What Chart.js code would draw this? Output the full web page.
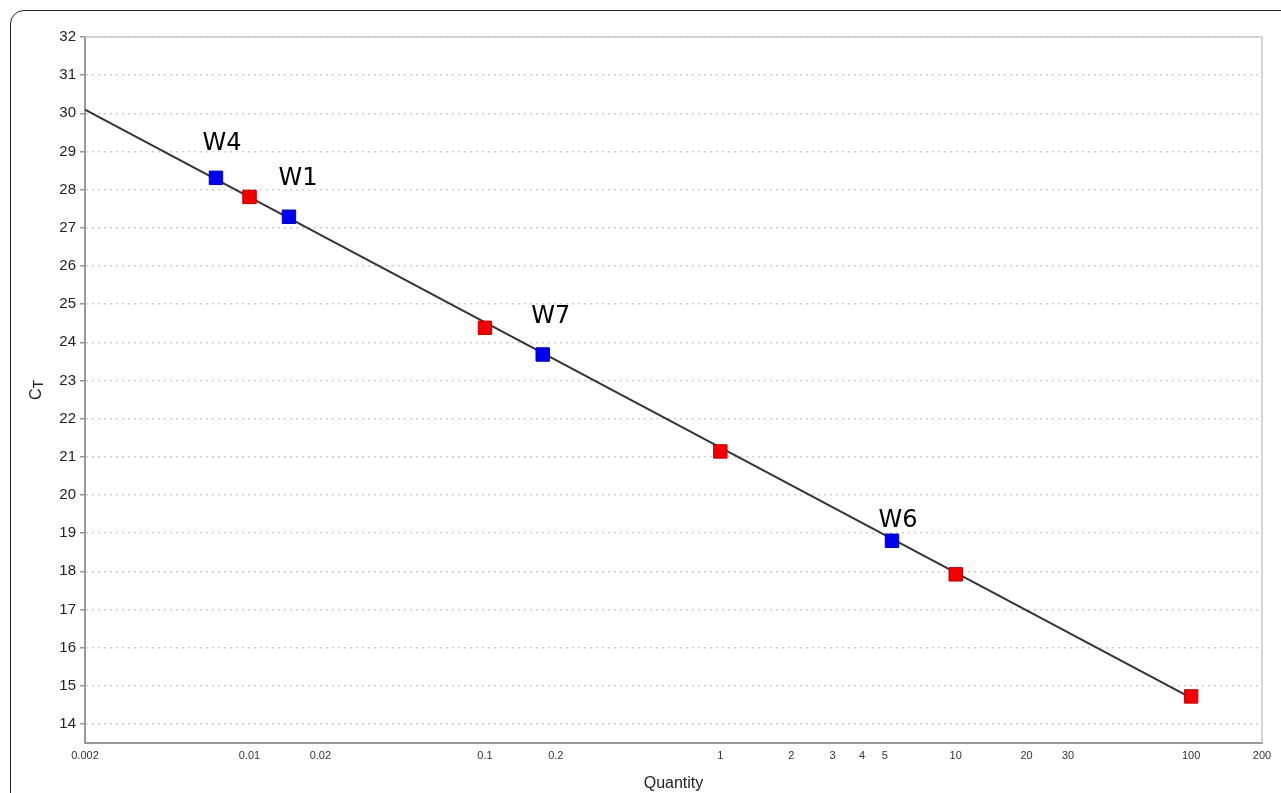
<!DOCTYPE html>
<html>
<head>
<meta charset="utf-8">
<script src="https://cdn.jsdelivr.net/npm/chart.js@4.4.1/dist/chart.umd.min.js"></script>
<style>
  html, body { margin: 0; padding: 0; background: #fff; overflow: hidden; }
  .frame {
    position: absolute; left: 10px; top: 10px; width: 1290px; height: 800px;
    border: 1.5px solid #222; border-radius: 14px; box-sizing: border-box;
  }
  #wrap { position: absolute; left: 0; top: 0; width: 1281px; height: 793px; }
</style>
</head>
<body>
<div class="frame"></div>
<div id="wrap"><canvas id="stdChart"></canvas></div>
<script>
// standards (red) and samples (blue)
const stdQty = [0.01, 0.1, 1, 10, 100]
const stdCt = [27.81, 24.38, 21.14, 17.92, 14.72]

const sampleNames = ['W4', 'W1', 'W7', 'W6']
const sampleQty = [0.0072, 0.0147, 0.176, 5.36]
const sampleCt = [28.31, 27.29, 23.68, 18.8]

// fitted standard curve endpoints
const fitQty = [0.002, 100]
const fitCt = [30.1, 14.68]

const xTicks = [0.002, 0.01, 0.02, 0.1, 0.2, 1, 2, 3, 4, 5, 10, 20, 30, 100, 200]
const yTicks = [14, 15, 16, 17, 18, 19, 20, 21, 22, 23, 24, 25, 26, 27, 28, 29, 30, 31, 32]

// label offsets for the sample names (pixels)
const labelOffsets = [[6, -34], [9, -38], [8, -38], [6, -20]]

const toPts = (xs, ys) => xs.map((x, i) => ({ x: x, y: ys[i] }))

const sampleLabels = {
  id: 'sampleLabels',
  afterDatasetsDraw(chart) {
    const ctx = chart.ctx
    const xs = chart.scales.x, ys = chart.scales.y
    ctx.save()
    ctx.fillStyle = '#000'
    ctx.font = '24px "DejaVu Sans", sans-serif'
    ctx.textAlign = 'center'
    ctx.textBaseline = 'middle'
    sampleNames.forEach((n, i) => {
      const px = xs.getPixelForValue(sampleQty[i]) + labelOffsets[i][0]
      const py = ys.getPixelForValue(sampleCt[i]) + labelOffsets[i][1]
      ctx.fillText(n, px, py)
    })
    ctx.restore()
  }
}

const plotFrame = {
  id: 'plotFrame',
  beforeDatasetsDraw(chart) {
    const a = chart.chartArea, ctx = chart.ctx
    ctx.save()
    ctx.strokeStyle = '#c8c8c8'
    ctx.lineWidth = 1.5
    ctx.beginPath()
    ctx.moveTo(a.left, a.top)
    ctx.lineTo(a.right, a.top)
    ctx.lineTo(a.right, a.bottom)
    ctx.stroke()
    // y title: C with subscript T
    ctx.fillStyle = '#222'
    ctx.translate(37, (a.top + a.bottom) / 2)
    ctx.rotate(-Math.PI / 2)
    ctx.textBaseline = 'middle'
    ctx.font = '16px "Liberation Sans", Arial, sans-serif'
    const cw = ctx.measureText('C').width
    ctx.font = '14px "Liberation Sans", Arial, sans-serif'
    const tw = ctx.measureText('T').width
    const start = -(cw + tw) / 2
    ctx.textAlign = 'left'
    ctx.font = '16px "Liberation Sans", Arial, sans-serif'
    ctx.fillText('C', start, 0)
    ctx.font = '14px "Liberation Sans", Arial, sans-serif'
    ctx.fillText('T', start + cw, 2)
    ctx.restore()
  }
}

new Chart(document.getElementById('stdChart'), {
  type: 'scatter',
  data: {
    datasets: [
      {
        label: 'Samples',
        data: toPts(sampleQty, sampleCt),
        pointStyle: 'rect',
        pointRadius: 9.5,
        backgroundColor: '#0000f0',
        borderColor: '#0000b0',
        borderWidth: 1,
        order: 1
      },
      {
        label: 'Standards',
        data: toPts(stdQty, stdCt),
        pointStyle: 'rect',
        pointRadius: 9.5,
        backgroundColor: '#f00000',
        borderColor: '#c00000',
        borderWidth: 1,
        order: 2
      },
      {
        label: 'Fit',
        type: 'line',
        data: toPts(fitQty, fitCt),
        borderColor: '#333',
        borderWidth: 2,
        pointRadius: 0,
        fill: false,
        order: 3
      }
    ]
  },
  options: {
    responsive: true,
    maintainAspectRatio: false,
    animation: false,
    layout: { padding: { left: 0, top: 37, right: 19, bottom: 0 } },
    plugins: {
      legend: { display: false },
      tooltip: { enabled: false }
    },
    scales: {
      x: {
        type: 'logarithmic',
        min: 0.002,
        max: 200,
        afterBuildTicks: s => { s.ticks = xTicks.map(v => ({ value: v })) },
        afterFit: s => { s.height = 50; s.paddingLeft = 0; s.paddingRight = 0 },
        ticks: {
          autoSkip: false,
          maxRotation: 0,
          padding: 6,
          color: '#333',
          font: { family: '"Liberation Sans Narrow", "Liberation Sans", sans-serif', size: 11 },
          callback: v => String(v)
        },
        grid: { drawOnChartArea: false, drawTicks: false },
        border: { color: '#999', width: 2 },
        title: {
          display: true,
          text: 'Quantity',
          color: '#222',
          padding: { top: 4, bottom: 0 },
          font: { family: '"Liberation Sans", Arial, sans-serif', size: 16 }
        }
      },
      y: {
        min: 13.5,
        max: 32,
        afterBuildTicks: s => { s.ticks = yTicks.map(v => ({ value: v })) },
        afterFit: s => { s.width = 85; s.paddingTop = 0; s.paddingBottom = 0 },
        ticks: {
          padding: 4,
          color: '#222',
          font: { family: '"Liberation Sans", Arial, sans-serif', size: 15 }
        },
        grid: {
          color: '#cfcfcf',
          lineWidth: 1.5,
          tickLength: 5,
          tickColor: '#999',
          tickWidth: 1.5,
          tickBorderDash: []
        },
        border: { color: '#999', width: 2, dash: [2, 4] }
      }
    }
  },
  plugins: [plotFrame, sampleLabels]
})
</script>
</body>
</html>
